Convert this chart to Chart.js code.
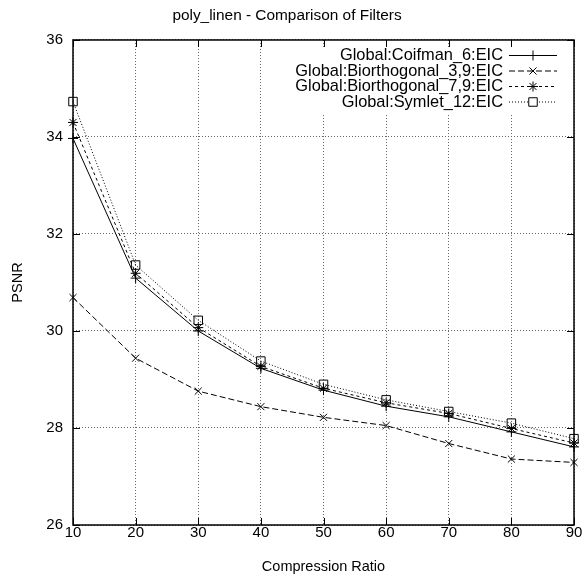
<!DOCTYPE html>
<html>
<head>
<meta charset="utf-8">
<script src="https://cdn.jsdelivr.net/npm/chart.js@4.4.1/dist/chart.umd.min.js"></script>
<style>
  html, body { margin: 0; padding: 0; background: #fff; }
  canvas { display: block; }
</style>
</head>
<body>
<canvas id="psnrChart" width="586" height="579"></canvas>
<script>
const ratios = [10, 20, 30, 40, 50, 60, 70, 80, 90];
const coifman6 = [33.97, 31.09, 30.00, 29.23, 28.78, 28.45, 28.23, 27.92, 27.61];
const bior39 = [30.69, 29.44, 28.76, 28.44, 28.22, 28.05, 27.68, 27.36, 27.29];
const bior79 = [34.30, 31.19, 30.07, 29.27, 28.82, 28.52, 28.30, 27.99, 27.69];
const symlet12 = [34.73, 31.36, 30.22, 29.38, 28.90, 28.58, 28.34, 28.10, 27.78];
const yTicks = [26, 28, 30, 32, 34, 36];

const FONT = "'Liberation Sans', Arial, sans-serif";

const series = [
    { label: 'Global:Coifman_6:EIC', data: coifman6, dash: [], point: 'cross', radius: 5 },
    { label: 'Global:Biorthogonal_3,9:EIC', data: bior39, dash: [6, 3], point: 'crossRot', radius: 5 },
    { label: 'Global:Biorthogonal_7,9:EIC', data: bior79, dash: [3, 3], point: 'star', radius: 5 },
    { label: 'Global:Symlet_12:EIC', data: symlet12, dash: [1, 2], point: 'rect', radius: 6 }
];

// gnuplot style: inward ticks on all four sides, box border, legend top right
const framePlugin = {
    id: 'frame',
    afterDatasetsDraw(chart) {
        const { ctx, chartArea: a, scales: { x, y } } = chart;
        ctx.save();
        ctx.strokeStyle = '#000';
        ctx.lineWidth = 1;
        ctx.setLineDash([]);
        ctx.beginPath();
        x.ticks.forEach((t, i) => {
            const px = Math.round(x.getPixelForTick(i)) + 0.5;
            ctx.moveTo(px, a.bottom); ctx.lineTo(px, a.bottom - 7);
            ctx.moveTo(px, a.top); ctx.lineTo(px, a.top + 7);
        });
        y.ticks.forEach((t, i) => {
            const py = Math.round(y.getPixelForTick(i)) + 0.5;
            ctx.moveTo(a.left, py); ctx.lineTo(a.left + 7, py);
            ctx.moveTo(a.right, py); ctx.lineTo(a.right - 7, py);
        });
        ctx.stroke();
        ctx.lineWidth = 1.5;
        ctx.strokeRect(a.left, a.top, a.right - a.left, a.bottom - a.top);
        ctx.restore();
    }
};

const legendPlugin = {
    id: 'gpLegend',
    beforeDatasetsDraw(chart) {
        const { ctx } = chart;
        ctx.save();
        ctx.fillStyle = '#fff';
        ctx.fillRect(286, 47, 282, 66);
        ctx.restore();
    },
    afterDatasetsDraw(chart) {
        const { ctx } = chart;
        ctx.save();
        ctx.font = '16.4px ' + FONT;
        ctx.textAlign = 'right';
        ctx.textBaseline = 'middle';
        series.forEach((s, i) => {
            const yy = 55.5 + i * 15.5;
            ctx.fillStyle = '#000';
            ctx.fillText(s.label, 503, yy);
            ctx.strokeStyle = '#000';
            ctx.lineWidth = 1;
            ctx.setLineDash(s.dash);
            ctx.beginPath();
            ctx.moveTo(509, yy); ctx.lineTo(557, yy);
            ctx.stroke();
            ctx.setLineDash([]);
            ctx.fillStyle = '#fff';
            Chart.helpers.drawPoint(ctx, { pointStyle: s.point, radius: s.radius, borderWidth: 1 }, 533, yy);
        });
        ctx.restore();
    }
};

new Chart(document.getElementById('psnrChart'), {
    type: 'line',
    data: {
        labels: ratios,
        datasets: series.map(s => ({
            label: s.label,
            data: s.data,
            borderColor: '#000',
            backgroundColor: 'rgba(0,0,0,0)',
            borderWidth: 1,
            borderDash: s.dash,
            pointStyle: s.point,
            pointRadius: s.radius,
            pointBorderColor: '#000',
            pointBackgroundColor: 'rgba(0,0,0,0)',
            pointBorderWidth: 1,
            tension: 0,
            fill: false
        }))
    },
    options: {
        responsive: false,
        animation: false,
        devicePixelRatio: 1,
        layout: { padding: { left: 0, right: 12, top: 0, bottom: 0 } },
        plugins: {
            legend: { display: false },
            tooltip: { enabled: false },
            title: {
                display: true,
                text: 'poly_linen - Comparison of Filters',
                color: '#000',
                font: { family: FONT, size: 15.4, weight: 'normal' },
                padding: { top: 7, bottom: 14.5 }
            }
        },
        scales: {
            x: {
                type: 'category',
                offset: false,
                grid: { color: '#666', drawTicks: false },
                border: { display: false, dash: [1, 2] },
                ticks: { color: '#000', font: { family: FONT, size: 15 }, padding: -1, maxRotation: 0 },
                title: { display: true, text: 'Compression Ratio', color: '#000',
                    font: { family: FONT, size: 14.5 }, padding: { top: 3, bottom: 3 } },
                afterFit(scale) { scale.height = 54; }
            },
            y: {
                min: 26,
                max: 36,
                afterBuildTicks(scale) { scale.ticks = yTicks.map(v => ({ value: v })); },
                grid: { color: '#666', drawTicks: false },
                border: { display: false, dash: [1, 2] },
                ticks: { color: '#000', font: { family: FONT, size: 15 }, padding: 10 },
                title: { display: true, text: 'PSNR', color: '#000',
                    font: { family: FONT, size: 14.5 }, padding: { top: 9, bottom: 0 } },
                afterFit(scale) { scale.width = 73; }
            }
        }
    },
    plugins: [legendPlugin, framePlugin]
});
</script>
</body>
</html>
